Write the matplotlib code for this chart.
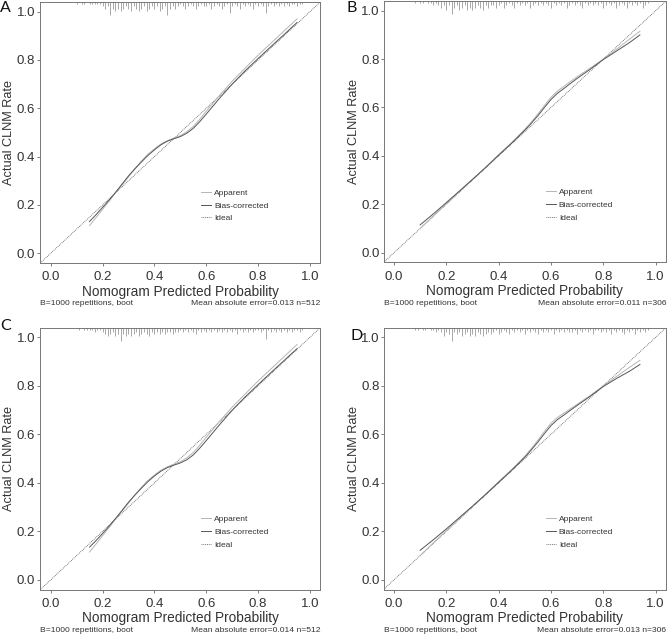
import numpy as np
import matplotlib
matplotlib.use("Agg")
import matplotlib.pyplot as plt

plt.rcParams['font.family'] = ['Liberation Sans', 'DejaVu Sans']

# Calibration curves, models A/C (n=512)
xAC = [0.15, 0.175, 0.2, 0.225, 0.25, 0.275, 0.3, 0.325, 0.35, 0.375, 0.4, 0.425, 0.45, 0.475,
       0.5, 0.525, 0.55, 0.575, 0.6, 0.625, 0.65, 0.7, 0.75, 0.8, 0.85, 0.9, 0.95]
appA = [0.115, 0.148, 0.182, 0.215, 0.250, 0.283, 0.316, 0.350, 0.382, 0.410, 0.432, 0.452, 0.466, 0.477,
        0.487, 0.503, 0.525, 0.555, 0.588, 0.620, 0.652, 0.712, 0.766, 0.820, 0.870, 0.920, 0.970]
biasA = [0.132, 0.160, 0.190, 0.220, 0.252, 0.286, 0.320, 0.350, 0.378, 0.405, 0.428, 0.449, 0.464, 0.474,
         0.483, 0.497, 0.517, 0.545, 0.576, 0.608, 0.640, 0.700, 0.755, 0.806, 0.856, 0.905, 0.955]
appC = [0.115, 0.148, 0.182, 0.215, 0.250, 0.283, 0.316, 0.350, 0.382, 0.410, 0.432, 0.452, 0.466, 0.477,
        0.487, 0.503, 0.525, 0.555, 0.588, 0.620, 0.652, 0.712, 0.766, 0.820, 0.870, 0.920, 0.970]
biasC = [0.135, 0.162, 0.191, 0.221, 0.253, 0.286, 0.320, 0.350, 0.378, 0.405, 0.428, 0.448, 0.463, 0.473,
         0.482, 0.495, 0.515, 0.543, 0.574, 0.606, 0.638, 0.699, 0.754, 0.805, 0.855, 0.904, 0.953]

# Calibration curves, models B/D (n=306)
xBD = [0.1, 0.15, 0.2, 0.25, 0.3, 0.35, 0.4, 0.45, 0.5, 0.525, 0.55, 0.575, 0.6, 0.625,
       0.65, 0.675, 0.7, 0.75, 0.8, 0.85, 0.9, 0.94]
appB = [0.100, 0.152, 0.202, 0.252, 0.302, 0.352, 0.405, 0.455, 0.510, 0.540, 0.573, 0.608, 0.642, 0.668,
        0.688, 0.708, 0.727, 0.763, 0.800, 0.840, 0.882, 0.915]
biasB = [0.115, 0.160, 0.207, 0.255, 0.303, 0.352, 0.403, 0.453, 0.506, 0.535, 0.566, 0.600, 0.633, 0.659,
         0.679, 0.700, 0.720, 0.758, 0.798, 0.833, 0.868, 0.900]
appD = [0.100, 0.152, 0.203, 0.253, 0.303, 0.353, 0.405, 0.455, 0.510, 0.542, 0.576, 0.612, 0.646, 0.670,
        0.688, 0.706, 0.724, 0.760, 0.800, 0.838, 0.876, 0.905]
biasD = [0.122, 0.165, 0.210, 0.257, 0.304, 0.352, 0.402, 0.452, 0.505, 0.536, 0.568, 0.603, 0.636, 0.661,
         0.680, 0.700, 0.719, 0.757, 0.797, 0.830, 0.860, 0.888]

# Distribution of predicted probabilities (rug counts along the top)
rugAC_x = np.round(np.arange(0.10, 0.975, 0.01), 2)
rugA_n = [1, 0, 1, 1, 0, 1, 1, 1, 1, 1,
          2, 3, 2, 6, 3, 4, 3, 4, 3, 2,
          3, 4, 2, 3, 4, 3, 2, 4, 3, 2,
          3, 2, 4, 3, 2, 6, 3, 2, 3, 2,
          1, 2, 3, 2, 1, 2, 3, 2, 1, 2,
          2, 1, 3, 2, 1, 2, 3, 2, 1, 5,
          2, 1, 2, 3, 1, 2, 1, 2, 3, 1,
          2, 1, 2, 5, 2, 1, 2, 1, 2, 1,
          2, 1, 2, 1, 1, 2, 1, 1]
rugC_n = [0, 1, 0, 1, 1, 1, 1, 2, 1, 1,
          2, 3, 4, 3, 2, 4, 3, 6, 3, 4,
          3, 4, 3, 2, 4, 3, 2, 3, 4, 2,
          3, 2, 3, 2, 3, 2, 2, 3, 2, 2,
          1, 2, 1, 2, 1, 2, 3, 1, 2, 1,
          2, 1, 2, 1, 2, 1, 2, 1, 2, 1,
          2, 1, 3, 1, 2, 1, 2, 1, 2, 1,
          1, 2, 1, 5, 1, 2, 1, 2, 1, 2,
          1, 2, 1, 2, 1, 1, 2, 1]
rugBD_x = np.round(np.arange(0.08, 0.975, 0.01), 2)
rugB_n = [1, 0, 1, 1, 0, 1, 1, 2, 1, 2,
          3, 2, 4, 2, 6, 3, 2, 4, 3, 2,
          4, 3, 4, 3, 2, 3, 4, 2, 3, 2,
          2, 3, 2, 1, 3, 2, 1, 2, 3, 1,
          2, 1, 2, 1, 3, 2, 1, 2, 1, 2,
          1, 2, 3, 1, 2, 1, 2, 1, 3, 2,
          1, 2, 1, 2, 3, 1, 2, 1, 2, 1,
          2, 1, 3, 2, 1, 2, 1, 3, 2, 1,
          2, 3, 1, 2, 1, 2, 1, 3, 2, 1]
rugD_n = [1, 1, 0, 1, 1, 0, 1, 1, 2, 1,
          2, 4, 2, 3, 6, 2, 3, 2, 4, 3,
          2, 4, 3, 4, 2, 3, 4, 3, 2, 3,
          2, 1, 3, 2, 1, 2, 3, 1, 2, 1,
          2, 1, 3, 1, 2, 1, 2, 3, 1, 2,
          1, 2, 1, 3, 1, 2, 1, 2, 1, 2,
          2, 1, 3, 1, 2, 1, 2, 1, 3, 1,
          1, 2, 1, 2, 1, 3, 1, 2, 1, 2,
          3, 1, 2, 1, 3, 1, 2, 1, 2, 1]

footLeft = "B=1000 repetitions, boot"
footRight = ["Mean absolute error=0.013 n=512", "Mean absolute error=0.011 n=306",
             "Mean absolute error=0.014 n=512", "Mean absolute error=0.013 n=306"]

FIG_W, FIG_H = 668, 636
LIM = (-0.04, 1.04)
TEXT = '#333333'


def addAxes(fig, left, top, width, height):
    """ Add an axes placed in pixel units measured from the top-left corner. """
    return fig.add_axes([left / FIG_W, 1 - (top + height) / FIG_H, width / FIG_W, height / FIG_H])


def drawCalibration(ax, x, app, bias, rugX, rugN, rightNote, ypad=1.2):
    """ One calibration panel: rug, apparent, bias-corrected and ideal lines. """
    ax.set_xlim(*LIM)
    ax.set_ylim(*LIM)

    # rug of predicted probabilities hanging from the top of the box
    h = np.array(rugN) * 0.009
    ax.vlines(rugX, LIM[1] - h, LIM[1], color='#9a9a9a', lw=0.6)

    ax.axline((0, 0), slope=1, color='#555555', lw=0.55, ls=(0, (1.2, 1.2)), label='Ideal')
    ax.plot(x, app, color='#b5b5b5', lw=0.7, label='Apparent')
    ax.plot(x, bias, color='#555555', lw=0.7, label='Bias-corrected')

    handles, labels = ax.get_legend_handles_labels()
    order = [labels.index(k) for k in ['Apparent', 'Bias-corrected', 'Ideal']]
    ax.legend([handles[i] for i in order], [labels[i] for i in order],
              loc='upper left', bbox_to_anchor=(0.56, 0.30), frameon=False,
              fontsize=6.0, handlelength=1.2, handletextpad=0.35, labelspacing=0.6,
              borderpad=0, labelcolor=TEXT)

    ticks = [0.0, 0.2, 0.4, 0.6, 0.8, 1.0]
    ax.set_xticks(ticks)
    ax.set_yticks(ticks)
    ax.set_xticklabels([f"{t:.1f}" for t in ticks])
    ax.set_yticklabels([f"{t:.1f}" for t in ticks])
    ax.tick_params(axis='both', length=2.5, width=0.6, color='#666666', labelsize=9.5, labelcolor=TEXT)
    ax.tick_params(axis='x', pad=3.5)
    ax.tick_params(axis='y', pad=ypad)
    for s in ax.spines.values():
        s.set_color('#777777')
        s.set_linewidth(0.7)

    ax.set_xlabel('Nomogram Predicted Probability', fontsize=9.8, color=TEXT, labelpad=1)
    ax.set_ylabel('Actual CLNM Rate', fontsize=9.2, color=TEXT, labelpad=1)

    ax.text(0, -0.157, footLeft, transform=ax.transAxes, ha='left', va='center', fontsize=6.1, color=TEXT)
    ax.text(1, -0.157, rightNote, transform=ax.transAxes, ha='right', va='center', fontsize=6.1, color=TEXT)


def main():
    fig = plt.figure(figsize=(FIG_W / 100, FIG_H / 100), dpi=100)

    axA = addAxes(fig, 40.3, 2.0, 280, 261)
    axB = addAxes(fig, 383.5, 1.0, 282.6, 261.4)
    axC = addAxes(fig, 40.3, 327.6, 280, 262)
    axD = addAxes(fig, 383.5, 327.6, 282.6, 262)

    drawCalibration(axA, xAC, appA, biasA, rugAC_x, rugA_n, footRight[0])
    drawCalibration(axB, xBD, appB, biasB, rugBD_x, rugB_n, footRight[1], ypad=0.3)
    drawCalibration(axC, xAC, appC, biasC, rugAC_x, rugC_n, footRight[2])
    drawCalibration(axD, xBD, appD, biasD, rugBD_x, rugD_n, footRight[3], ypad=0.3)

    # panel letters
    for letter, px, py in [('A', 0, 8.5), ('B', 346, 8.5), ('C', 0, 326), ('D', 350, 336)]:
        fig.text(px / FIG_W, 1 - py / FIG_H, letter, fontsize=11.5, family=['Lato', 'DejaVu Sans'],
                 ha='left', va='center', color='#111111')

    fig.savefig('out.png', dpi=100)


if __name__ == "__main__":
    main()
